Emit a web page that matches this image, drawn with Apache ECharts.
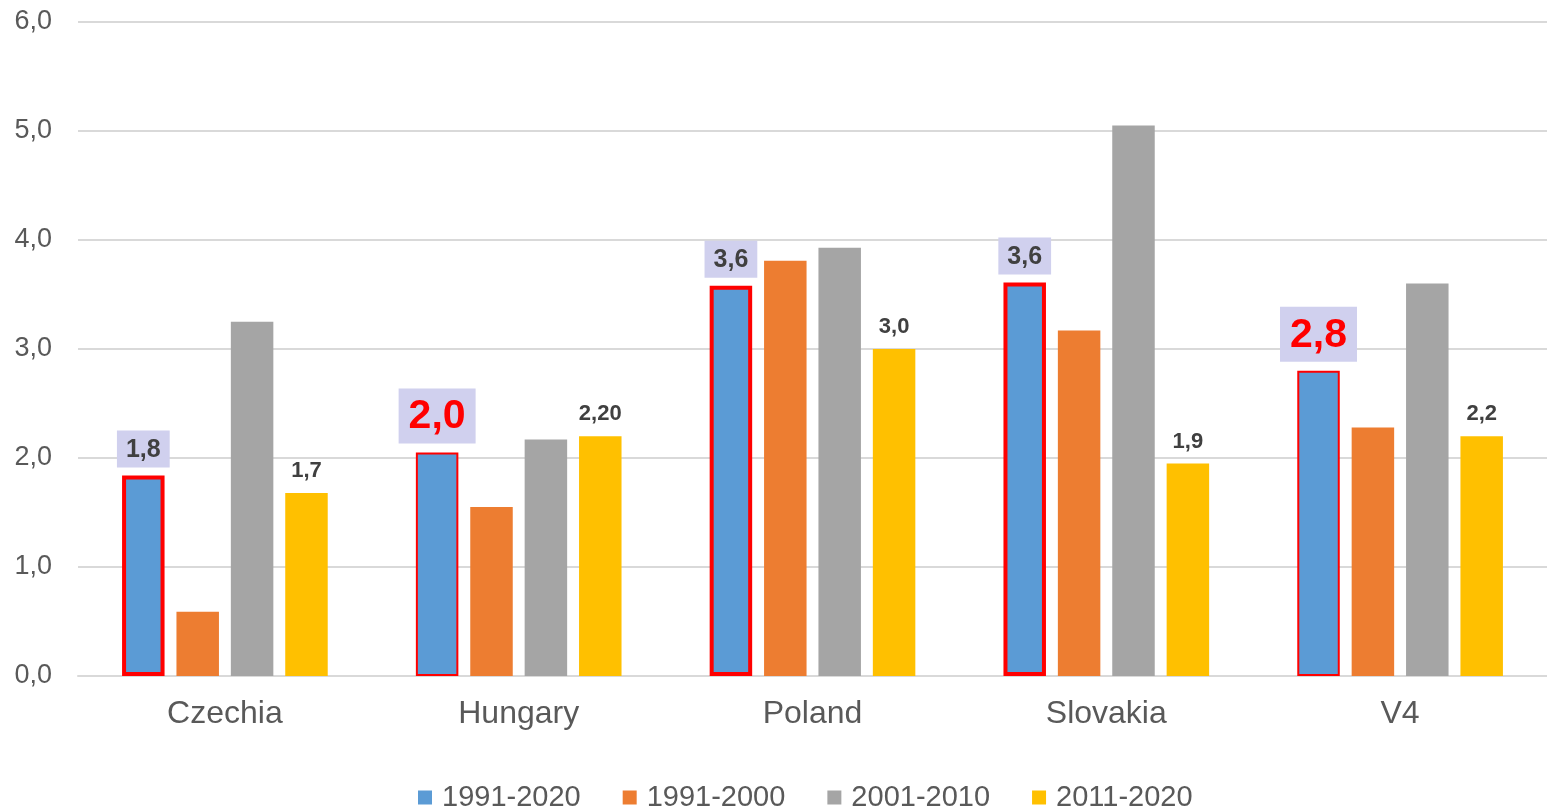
<!DOCTYPE html>
<html lang="en">
<head>
  <meta charset="UTF-8">
  <title>V4 bar chart</title>
  <script src="https://cdn.jsdelivr.net/npm/echarts@6.0.0/dist/echarts.min.js"></script>
  <style>
    * { margin: 0; padding: 0; box-sizing: border-box; }
    body { background-color: #ffffff; }
    #chart { width: 1547px; height: 807px; }
  </style>
</head>
<body>
  <div id="chart"></div>

  <script>
    // data
    var categories = ['Czechia', 'Hungary', 'Poland', 'Slovakia', 'V4'];
    var seriesNames = ['1991-2020', '1991-2000', '2001-2010', '2011-2020'];
    var values1991_2020 = [1.84, 2.05, 3.58, 3.61, 2.80];
    var values1991_2000 = [0.59, 1.55, 3.81, 3.17, 2.28];
    var values2001_2010 = [3.25, 2.17, 3.93, 5.05, 3.60];
    var values2011_2020 = [1.68, 2.20, 3.00, 1.95, 2.20];
    var labels1991_2020 = ['1,8', '2,0', '3,6', '3,6', '2,8'];
    var labels2011_2020 = ['1,7', '2,20', '3,0', '1,9', '2,2'];
    var bigLabel = [false, true, false, false, true];
    var yTicks = [0, 1, 2, 3, 4, 5, 6];

    var font = "'Liberation Sans', Arial, sans-serif";

    var blueData = values1991_2020.map(function (v, i) {
      var big = bigLabel[i];
      return {
        value: v,
        itemStyle: { borderColor: '#ff0000', borderWidth: big ? 2 : 4 },
        label: {
          show: true,
          position: 'top',
          distance: big ? 9 : 8,
          formatter: labels1991_2020[i],
          fontFamily: font,
          fontWeight: 'bold',
          fontSize: big ? 41 : 25,
          color: big ? '#ff0000' : '#404040',
          backgroundColor: '#d0d0ee',
          padding: big ? [8, 10, 6, 10] : [7, 9, 5, 9]
        }
      };
    });

    var yellowData = values2011_2020.map(function (v, i) {
      return {
        value: v,
        label: {
          show: true,
          position: 'top',
          distance: 11,
          formatter: labels2011_2020[i],
          fontFamily: font,
          fontWeight: 'bold',
          fontSize: 22,
          color: '#404040'
        }
      };
    });

    var chartDom = document.getElementById('chart');
    var myChart = echarts.init(chartDom);

    var option = {
      animation: false,
      textStyle: { fontFamily: font },
      color: ['#5b9bd5', '#ed7d31', '#a5a5a5', '#ffc000'],
      grid: { left: 78, right: 0, top: 22, bottom: 131 },
      legend: {
        data: seriesNames,
        top: 778,
        left: 413,
        itemWidth: 14,
        itemHeight: 14,
        itemGap: 42,
        icon: 'rect',
        textStyle: { fontSize: 29, color: '#595959', fontFamily: font, padding: [0, 0, 0, 5] }
      },
      xAxis: {
        type: 'category',
        data: categories,
        axisTick: { show: false },
        axisLine: { lineStyle: { color: '#d9d9d9', width: 2 } },
        axisLabel: { fontSize: 32, color: '#595959', margin: 22, fontFamily: font }
      },
      yAxis: {
        type: 'value',
        min: yTicks[0],
        max: yTicks[yTicks.length - 1],
        interval: 1,
        axisLabel: {
          fontSize: 27,
          color: '#595959',
          margin: 26,
          fontFamily: font,
          formatter: function (v) { return v.toFixed(1).replace('.', ','); }
        },
        splitLine: { lineStyle: { color: '#d9d9d9', width: 2 } }
      },
      series: [
        { name: seriesNames[0], type: 'bar', barGap: '28%', barCategoryGap: '30%', data: blueData },
        { name: seriesNames[1], type: 'bar', data: values1991_2000 },
        { name: seriesNames[2], type: 'bar', data: values2001_2010 },
        { name: seriesNames[3], type: 'bar', data: yellowData }
      ]
    };

    myChart.setOption(option);
  </script>
</body>
</html>
